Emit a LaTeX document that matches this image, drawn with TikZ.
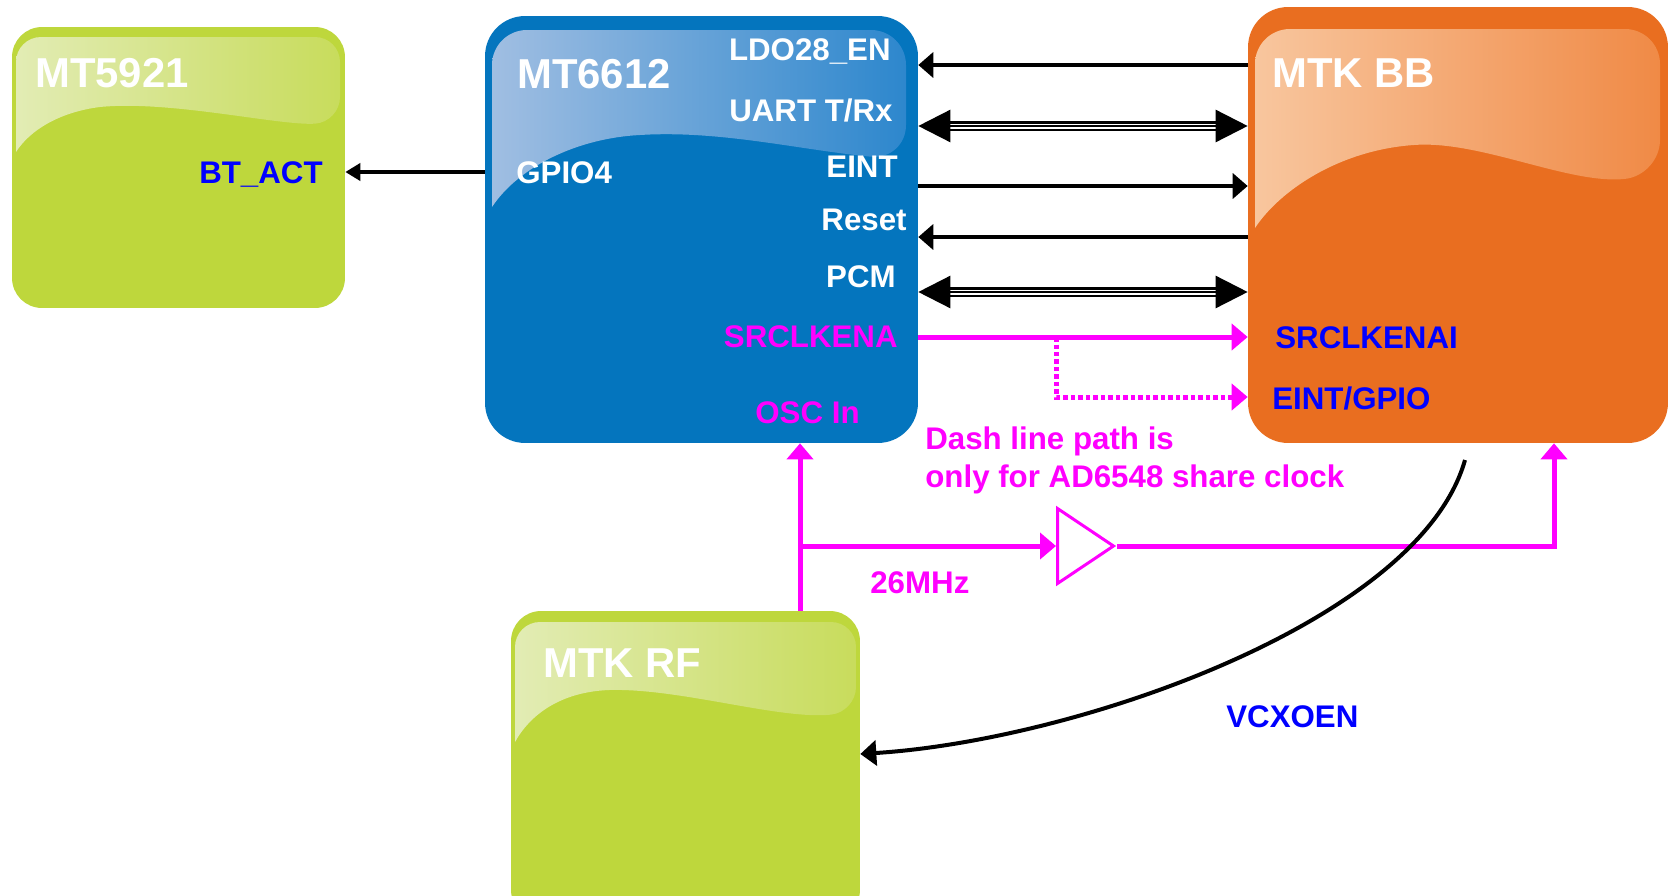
\documentclass[tikz,border=0pt]{standalone}
\usepackage{fontspec}
\setmainfont{Liberation Sans}
\usetikzlibrary{arrows.meta,shapes.geometric}

\definecolor{chipgreen}{RGB}{190,215,60}
\definecolor{chipblue}{RGB}{4,117,190}
\definecolor{chiporange}{RGB}{233,110,32}
\definecolor{glossgreenL}{RGB}{226,236,180}
\definecolor{glossgreenR}{RGB}{200,220,92}
\definecolor{glossblueL}{RGB}{160,190,226}
\definecolor{glossblueR}{RGB}{45,135,205}
\definecolor{glossorangeL}{RGB}{248,198,158}
\definecolor{glossorangeR}{RGB}{240,138,70}
\definecolor{pinblue}{RGB}{0,0,255}
\definecolor{clkpink}{RGB}{255,0,255}

\begin{document}
\begin{tikzpicture}[x=0.02cm,y=-0.02cm,
    chip/.style={rectangle,inner sep=0pt,rounded corners=0.8cm},
    title/.style={anchor=base west,inner sep=0pt,text=white,font=\bfseries\fontsize{23.8}{28}\selectfont},
    pin/.style={inner sep=0pt,font=\bfseries\fontsize{17.8}{21.5}\selectfont},
    sig/.style={line width=0.075cm,-{Triangle[length=0.3cm,width=0.5cm]}},
    bus/.style={double,line width=0.05cm,double distance=0.1cm,shorten <=0.6cm,shorten >=0.6cm},
    bushead/.style={line width=0.05cm,{Triangle[length=0.64cm,width=0.64cm]}-{Triangle[length=0.64cm,width=0.64cm]}},
    clk/.style={clkpink,line width=0.1cm,-{Triangle[length=0.32cm,width=0.52cm]}}]
        \clip (0,0) rectangle (1668,896);
        \fill [white] (0,0) rectangle (1668,896);

        \node [chip,fill=chipgreen,rounded corners=0.6cm,minimum width=6.66cm,minimum height=5.62cm] (mt5921) at(178.5,167.5) {};
        \node [chip,fill=chipblue,minimum width=8.66cm,minimum height=8.54cm] (mt6612) at(701.5,229.5) {};
        \node [chip,fill=chiporange,minimum width=8.4cm,minimum height=8.72cm] (mtkbb) at(1458,225) {};
        \node [chip,fill=chipgreen,rounded corners=0.6cm,minimum width=6.98cm,minimum height=6.18cm] (mtkrf) at(685.5,765.5) {};

        \shade [left color=glossgreenL,right color=glossgreenR] (16,152) [rounded corners=0.5cm] -- (16,37) -- (340,37) -- (340,122) [sharp corners] .. controls (280,126) and (170,100) .. (100,107) .. controls (60,112) and (30,130) .. (16,152) -- cycle;
        \shade [left color=glossblueL,right color=glossblueR] (492,207) [rounded corners=0.7cm] -- (492,30) -- (906,30) -- (906,160) [sharp corners] .. controls (800,150) and (720,130) .. (640,135) .. controls (580,138) and (520,165) .. (492,207) -- cycle;
        \shade [left color=glossorangeL,right color=glossorangeR] (1255,228) [rounded corners=0.7cm] -- (1255,29) -- (1660,29) -- (1660,175) [sharp corners] .. controls (1570,185) and (1480,140) .. (1414,145) .. controls (1340,150) and (1280,190) .. (1255,228) -- cycle;
        \shade [left color=glossgreenL,right color=glossgreenR] (515,742) [rounded corners=0.5cm] -- (515,622) -- (856,622) -- (856,712) [sharp corners] .. controls (780,720) and (680,688) .. (609,690) .. controls (560,692) and (530,715) .. (515,742) -- cycle;

        \node [title] (t5921) at(35,87) {MT5921};
        \node [title] (t6612) at(517,88) {MT6612};
        \node [title] (tbb) at(1272,87) {MTK BB};
        \node [title] (trf) at(543,677) {MTK RF};

        \node [pin,text=pinblue,anchor=base east] (btact) at(323,183) {BT\_ACT};
        \node [pin,text=white,anchor=base west] (gpio) at(516,183) {GPIO4};
        \node [pin,text=white,anchor=base east] (ldo) at(891,60) {LDO28\_EN};
        \node [pin,text=white,anchor=base east] (uart) at(893,121) {UART T/Rx};
        \node [pin,text=white,anchor=base east] (eint) at(898,177) {EINT};
        \node [pin,text=white,anchor=base east] (reset) at(907,230) {Reset};
        \node [pin,text=white,anchor=base east] (pcm) at(896,287) {PCM};
        \node [pin,text=clkpink,anchor=base east] (srclk) at(898,347) {SRCLKENA};
        \node [pin,text=clkpink,anchor=base east] (oscin) at(860,423) {OSC In};
        \node [pin,text=pinblue,anchor=base west] (srclki) at(1275,348) {SRCLKENAI};
        \node [pin,text=pinblue,anchor=base west] (eintgpio) at(1272,409) {EINT/GPIO};
        \node [pin,text=clkpink,anchor=base west,align=left] (note) at(925,487) {Dash line path is\\only for AD6548 share clock};
        \node [pin,text=clkpink,anchor=base west] (mhz) at(870,593) {26MHz};
        \node [pin,text=pinblue,anchor=base west] (vcxoen) at(1226,727) {VCXOEN};

        \draw [line width=0.08cm,-{Triangle[length=0.3cm,width=0.34cm]}] (mt6612.west |- 0,172) -- (mt5921.east |- 0,172);
        \draw [sig] (mtkbb.west |- 0,65) -- (mt6612.east |- 0,65);
        \draw [bus] (mt6612.east |- 0,126) -- (mtkbb.west |- 0,126);
        \draw [bushead] (mt6612.east |- 0,126) -- (mtkbb.west |- 0,126);
        \draw [sig] (mt6612.east |- 0,186) -- (mtkbb.west |- 0,186);
        \draw [sig] (mtkbb.west |- 0,237) -- (mt6612.east |- 0,237);
        \draw [bus] (mt6612.east |- 0,292) -- (mtkbb.west |- 0,292);
        \draw [bushead] (mt6612.east |- 0,292) -- (mtkbb.west |- 0,292);

        \coordinate (split) at(1056,337);
        \draw [clk] (mt6612.east |- split) -- (mtkbb.west |- split);
        \draw [clk,dash pattern=on 0.09cm off 0.06cm] (split) |- (mtkbb.west |- 0,397);

        \coordinate (osc) at(800,0);
        \coordinate (bbclk) at(1554,0);
        \node [draw=clkpink,fill=white,line width=0.06cm,isosceles triangle,isosceles triangle stretches,minimum width=1.5cm,minimum height=1.12cm,inner sep=0pt,anchor=lower side] (buf) at(1056,546) {};
        \draw [clk] (mtkrf.north -| osc) -- (mt6612.south -| osc);
        \draw [clk] (osc |- buf.lower side) -- (buf.lower side);
        \draw [clk] (buf.apex) -| (mtkbb.south -| bbclk);

        \coordinate (vcxo) at(1465,460);
        \draw [line width=0.08cm,-{Triangle[length=0.32cm,width=0.5cm]}] (vcxo) .. controls (1420,620) and (1080,740) .. (mtkrf.east |- 0,754);
    \end{tikzpicture}
\end{document}
